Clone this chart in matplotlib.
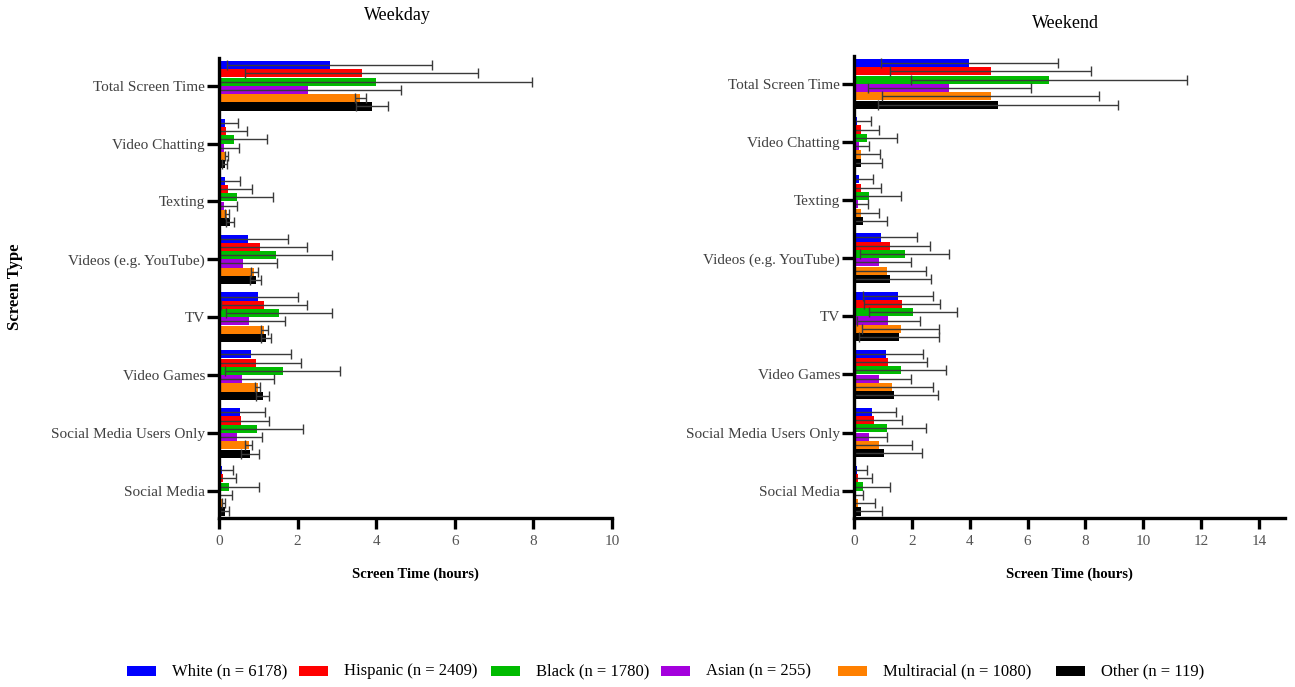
import numpy as np
import matplotlib
matplotlib.use("Agg")
import matplotlib.pyplot as plt
from matplotlib.patches import Rectangle

plt.rcParams['font.family'] = ['Liberation Serif', 'DejaVu Serif']

# Screen types, listed top to bottom
categories = ["Total Screen Time", "Video Chatting", "Texting", "Videos (e.g. YouTube)",
              "TV", "Video Games", "Social Media Users Only", "Social Media"]

groups = ["White (n = 6178)", "Hispanic (n = 2409)", "Black (n = 1780)",
          "Asian (n = 255)", "Multiracial (n = 1080)", "Other (n = 119)"]
colors = ["#0000FF", "#FF0000", "#00BB00", "#A400DD", "#FF8000", "#000000"]

# Weekday means (hours), one list per group, same order as categories
wd_white = [2.82, 0.14, 0.15, 0.75, 0.98, 0.81, 0.53, 0.08]
wd_hisp = [3.63, 0.19, 0.24, 1.04, 1.15, 0.93, 0.55, 0.09]
wd_black = [3.99, 0.39, 0.47, 1.45, 1.53, 1.62, 0.97, 0.26]
wd_asian = [2.26, 0.13, 0.13, 0.62, 0.76, 0.58, 0.47, 0.05]
wd_multi = [3.59, 0.18, 0.20, 0.90, 1.15, 0.98, 0.76, 0.11]
wd_other = [3.89, 0.14, 0.28, 0.93, 1.20, 1.11, 0.79, 0.14]

# Weekday standard deviations
wd_white_sd = [2.61, 0.35, 0.38, 1.00, 1.02, 1.01, 0.64, 0.28]
wd_hisp_sd = [2.97, 0.51, 0.59, 1.19, 1.10, 1.15, 0.72, 0.34]
wd_black_sd = [3.97, 0.82, 0.90, 1.43, 1.35, 1.46, 1.16, 0.76]
wd_asian_sd = [2.37, 0.39, 0.34, 0.85, 0.93, 0.83, 0.62, 0.27]
wd_multi_sd = [0.14, 0.04, 0.06, 0.08, 0.09, 0.06, 0.09, 0.04]
wd_other_sd = [0.40, 0.06, 0.10, 0.15, 0.13, 0.17, 0.23, 0.12]

# Weekend means (hours)
we_white = [3.98, 0.12, 0.16, 0.93, 1.51, 1.11, 0.61, 0.09]
we_hisp = [4.72, 0.23, 0.23, 1.24, 1.65, 1.19, 0.70, 0.13]
we_black = [6.74, 0.46, 0.53, 1.75, 2.05, 1.61, 1.15, 0.32]
we_asian = [3.30, 0.17, 0.13, 0.87, 1.19, 0.87, 0.53, 0.07]
we_multi = [4.72, 0.23, 0.23, 1.15, 1.62, 1.32, 0.87, 0.15]
we_other = [4.98, 0.23, 0.32, 1.24, 1.56, 1.38, 1.04, 0.23]

# Weekend standard deviations
we_white_sd = [3.06, 0.47, 0.51, 1.26, 1.21, 1.27, 0.84, 0.37]
we_hisp_sd = [3.49, 0.64, 0.71, 1.39, 1.32, 1.34, 0.95, 0.48]
we_black_sd = [4.76, 1.02, 1.08, 1.55, 1.52, 1.57, 1.33, 0.92]
we_asian_sd = [2.83, 0.36, 0.36, 1.11, 1.09, 1.11, 0.62, 0.25]
we_multi_sd = [3.74, 0.67, 0.64, 1.34, 1.33, 1.40, 1.12, 0.58]
we_other_sd = [4.16, 0.74, 0.83, 1.42, 1.37, 1.51, 1.30, 0.75]

weekday = [wd_white, wd_hisp, wd_black, wd_asian, wd_multi, wd_other]
weekday_sd = [wd_white_sd, wd_hisp_sd, wd_black_sd, wd_asian_sd, wd_multi_sd, wd_other_sd]
weekend = [we_white, we_hisp, we_black, we_asian, we_multi, we_other]
weekend_sd = [we_white_sd, we_hisp_sd, we_black_sd, we_asian_sd, we_multi_sd, we_other_sd]

fig = plt.figure(figsize=(12.95, 6.87), dpi=100)
W, H = 1295, 687


def add_axes_px(left, top, right, bottom):
    return fig.add_axes([left / W, 1 - bottom / H, (right - left) / W, (bottom - top) / H])


ax1 = add_axes_px(219, 58, 612, 518)
ax2 = add_axes_px(854, 56, 1285, 518)

ypos = np.arange(len(categories))[::-1]
step = 0.143
label_gray = "#404040"


def draw_panel(ax, means, sds, xmax, ticks):
    for j in range(len(groups)):
        ax.barh(ypos + (2.5 - j) * step, means[j], height=0.14, color=colors[j],
                xerr=sds[j],
                error_kw=dict(ecolor="#3a3a3a", elinewidth=1, capsize=3.5, capthick=1))
    ax.set_xlim(0, xmax)
    ax.set_ylim(-0.47, 7.48)
    ax.set_xticks(ticks)
    ax.set_yticks(ypos)
    ax.set_yticklabels(categories)
    for s in ["top", "right"]:
        ax.spines[s].set_visible(False)
    for s in ["left", "bottom"]:
        ax.spines[s].set_linewidth(2.4)
    ax.tick_params(axis="y", length=9, width=2.4, pad=1, labelsize=11, labelcolor=label_gray)
    ax.tick_params(axis="x", length=8, width=2.4, pad=4, labelsize=11, labelcolor="#555555")
    ax.set_xlabel("Screen Time (hours)", fontsize=10.5, fontweight="bold", labelpad=14)


draw_panel(ax1, weekday, weekday_sd, 10, np.arange(0, 11, 2))
draw_panel(ax2, weekend, weekend_sd, 14.9, np.arange(0, 15, 2))

fig.text(397 / W, 1 - 15 / H, "Weekday", ha="center", va="center", fontsize=13)
fig.text(1065 / W, 1 - 24 / H, "Weekend", ha="center", va="center", fontsize=13)
fig.text(15 / W, 1 - 287 / H, "Screen Type", rotation=90, ha="center", va="center",
         fontsize=12, fontweight="bold")

# Legend row along the bottom
sq_left = [127, 299, 491, 661, 838, 1056]
for x, c, lab in zip(sq_left, colors, groups):
    fig.patches.append(Rectangle((x / W, 1 - 676 / H), 29 / W, 10 / H,
                                 transform=fig.transFigure, facecolor=c, edgecolor="none"))
    fig.text((x + 45) / W, 1 - 671 / H, lab, ha="left", va="center", fontsize=12)

fig.savefig("out.png", dpi=100)
